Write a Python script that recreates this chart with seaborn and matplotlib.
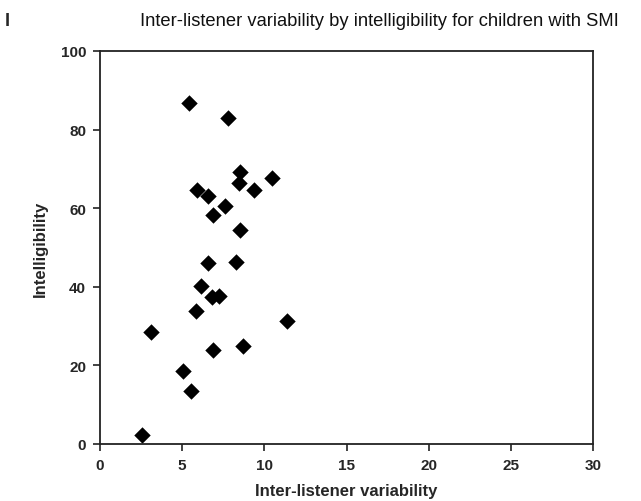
import matplotlib
matplotlib.use("Agg")
import matplotlib.pyplot as plt
import seaborn as sns
import pandas as pd

variability = [5.4, 7.8, 8.5, 8.45, 10.45, 5.9, 6.6, 9.4, 7.6, 6.9, 8.5, 6.55, 8.3,
               6.15, 6.8, 7.25, 5.85, 11.35, 3.1, 6.85, 8.7, 5.05, 5.55, 2.55]
intelligibility = [86.8, 82.9, 69.2, 66.4, 67.6, 64.6, 63.0, 64.7, 60.6, 58.3, 54.5, 46.1, 46.4,
                   40.1, 37.3, 37.7, 33.8, 31.4, 28.6, 23.9, 25.0, 18.6, 13.6, 2.4]

df = pd.DataFrame({"var": variability, "intel": intelligibility})

sns.set_style("white")
plt.rcParams['font.family'] = ['Liberation Sans', 'DejaVu Sans']

fig = plt.figure(figsize=(6.41, 5.02), dpi=100)
ax = fig.add_axes([100/641, 1-445/502, 493/641, 393/502])
sns.scatterplot(data=df, x="var", y="intel", marker="D", color="black", s=70,
                edgecolor="black", linewidth=0, ax=ax)
ax.set_xlim(0, 30)
ax.set_ylim(0, 100)
ax.set_xticks([0, 5, 10, 15, 20, 25, 30])
ax.set_yticks([0, 20, 40, 60, 80, 100])
for s in ax.spines.values():
    s.set_visible(True)
    s.set_color("#222222")
    s.set_linewidth(1.3)
ax.tick_params(axis="both", direction="out", length=5, width=1.2, color="#222222",
               labelsize=11, left=True, bottom=True, pad=5)
for lab in ax.get_xticklabels() + ax.get_yticklabels():
    lab.set_fontweight("bold")
ax.set_xlabel("Inter-listener variability", fontsize=12, fontweight="bold", labelpad=8)
ax.set_ylabel("Intelligibility", fontsize=12, fontweight="bold", labelpad=9)
fig.text(5/641, 1-22/502, "I", fontsize=13, va="center", ha="left", fontweight="bold")
fig.text(140/641, 1-22/502, "Inter-listener variability by intelligibility for children with SMI",
         fontsize=13.2, va="center", ha="left", color="#111111")
fig.savefig("out.png", dpi=100)
